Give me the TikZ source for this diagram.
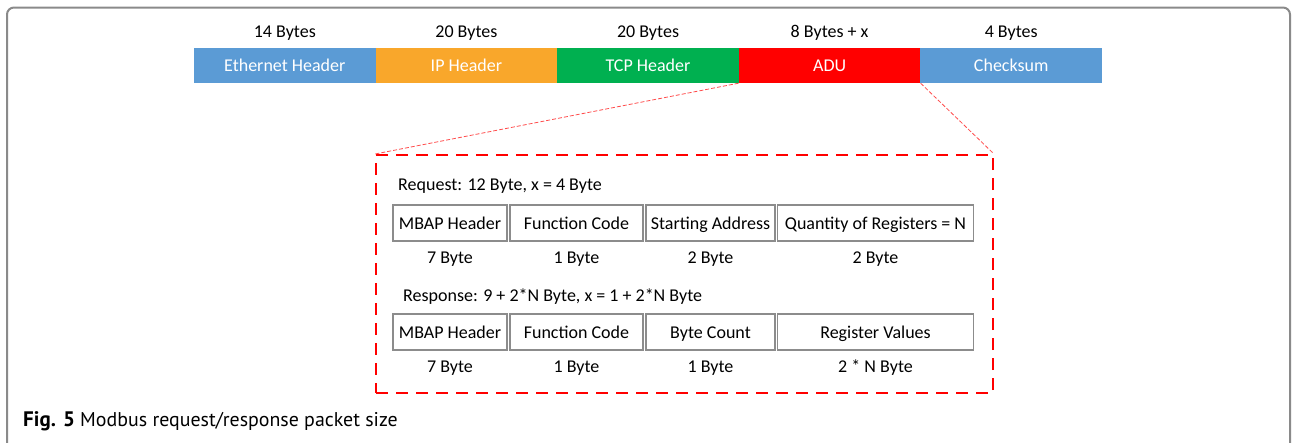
\documentclass[tikz,border=0pt]{standalone}
\usepackage{fontspec}
\setmainfont{Carlito}
\newfontfamily\capfont{PT Sans}
\definecolor{ethblue}{HTML}{5B9BD5}
\definecolor{iporange}{HTML}{F9A72B}
\definecolor{tcpgreen}{HTML}{00B050}
\definecolor{adured}{HTML}{FF0000}
\definecolor{boxgray}{HTML}{8C8C8C}
\definecolor{framegray}{HTML}{8A8A8A}
\begin{document}
\begin{tikzpicture}[x=1pt,y=-1pt,
  txt/.style={text height=12.6pt, text depth=0pt, font=\fontsize{18}{21}\selectfont},
  seg/.style={txt, draw=none, inner sep=0pt, minimum width=181.6pt, minimum height=35pt, text=white},
  toplabel/.style={txt, inner sep=0pt},
  field/.style={txt, draw=boxgray, line width=1.4pt, inner sep=0pt, minimum height=36pt},
  sizelabel/.style={txt, inner sep=0pt},
  headline/.style={txt, inner sep=0pt, anchor=west},
  dashbox/.style={draw=adured, line width=2pt, dash pattern=on 12pt off 8pt, inner sep=0pt,
    minimum width=617pt, minimum height=238pt},
  zoomline/.style={draw=adured!70, line width=0.8pt, dash pattern=on 4pt off 2pt}
]
\useasboundingbox (0,0) rectangle (1292,442);
\begin{scope}
\clip (0,0) rectangle (1292,442);
\draw[framegray, line width=2pt, rounded corners=7pt] (7,470) -- (7,7.5) -- (1290,7.5) -- (1290,470);
\end{scope}

% top bar
\node[seg, fill=ethblue] (eth) at (284.8,65.5) {Ethernet Header};
\node[seg, fill=iporange] (ip) at (466.4,65.5) {IP Header};
\node[seg, fill=tcpgreen] (tcp) at (648,65.5) {TCP Header};
\node[seg, fill=adured] (adu) at (829.6,65.5) {ADU};
\node[seg, fill=ethblue] (chk) at (1011.2,65.5) {Checksum};

\node[toplabel] (l1) at (284.8,31) {14 Bytes};
\node[toplabel] (l2) at (466.4,31) {20 Bytes};
\node[toplabel] (l3) at (648,31) {20 Bytes};
\node[toplabel] (l4) at (829.6,31) {8 Bytes + x};
\node[toplabel] (l5) at (1011.2,31) {4 Bytes};

% zoom box
\node[dashbox] (zoom) at (684.5,274) {};
\draw[zoomline] (adu.south west) -- (zoom.north west);
\draw[zoomline] (adu.south east) -- (zoom.north east);

% request
\node[headline] (req) at (398,184) {Request: 12 Byte, x = 4 Byte};
\node[field, minimum width=114pt] (r1) at (450,223) {MBAP Header};
\node[field, minimum width=133pt] (r2) at (576.5,223) {Function Code};
\node[field, minimum width=129pt] (r3) at (710.5,223) {Starting Address};
\node[field, minimum width=196pt] (r4) at (875.5,223) {Quantity of Registers = N};
\node[sizelabel] (rs1) at (450,257) {7 Byte};
\node[sizelabel] (rs2) at (576.5,257) {1 Byte};
\node[sizelabel] (rs3) at (710.5,257) {2 Byte};
\node[sizelabel] (rs4) at (875.5,257) {2 Byte};

% response
\node[headline] (resp) at (403,295) {Response: 9 + 2*N Byte, x = 1 + 2*N Byte};
\node[field, minimum width=114pt] (p1) at (450,332) {MBAP Header};
\node[field, minimum width=133pt] (p2) at (576.5,332) {Function Code};
\node[field, minimum width=129pt] (p3) at (710.5,332) {Byte Count};
\node[field, minimum width=196pt] (p4) at (875.5,332) {Register Values};
\node[sizelabel] (ps1) at (450,366) {7 Byte};
\node[sizelabel] (ps2) at (576.5,366) {1 Byte};
\node[sizelabel] (ps3) at (710.5,366) {1 Byte};
\node[sizelabel] (ps4) at (875.5,366) {2 * N Byte};

% caption
\node[inner sep=0pt, anchor=west, font=\capfont\fontsize{19.9}{23}\selectfont] (cap) at (23,421)
  {{\fontsize{21}{23}\selectfont\textbf{Fig. 5}} Modbus request/response packet size};
\end{tikzpicture}
\end{document}
